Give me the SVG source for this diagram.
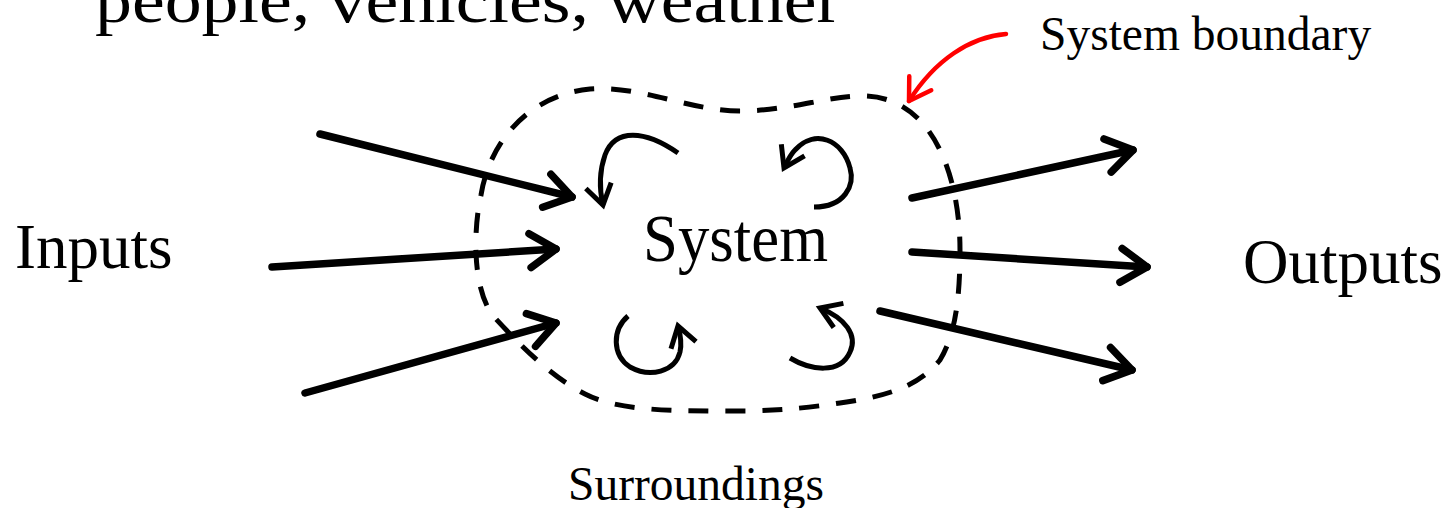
<svg xmlns="http://www.w3.org/2000/svg" width="1447" height="508" viewBox="0 0 1447 508">
<style>
text{font-family:"Liberation Serif","Times New Roman",serif;fill:#000}
.big{font-size:63px}
.small{font-size:47.5px}
.flow{fill:none;stroke:#000;stroke-width:7.5;stroke-linecap:round;marker-end:url(#bigHead)}
.loop{fill:none;stroke:#000;stroke-width:5;stroke-linecap:butt;marker-end:url(#smallHead)}
.boundary{fill:none;stroke:#000;stroke-width:5;stroke-dasharray:20 17}
</style>
<defs>
<marker id="bigHead" markerUnits="userSpaceOnUse" viewBox="-40 -25 50 50" refX="0" refY="0" markerWidth="50" markerHeight="50" orient="auto" overflow="visible">
<path d="M -26,-17 L 0,0 L -26,17" fill="none" stroke="#000" stroke-width="7.5" stroke-linecap="round" stroke-linejoin="round"/>
</marker>
<marker id="smallHead" markerUnits="userSpaceOnUse" viewBox="-30 -20 40 40" refX="0" refY="0" markerWidth="40" markerHeight="40" orient="auto" overflow="visible">
<path d="M -20,-13 L 0,0 L -20,13" fill="none" stroke="#000" stroke-width="5" stroke-linecap="butt" stroke-linejoin="miter"/>
</marker>
<marker id="redHead" markerUnits="userSpaceOnUse" viewBox="-30 -20 40 40" refX="0" refY="0" markerWidth="40" markerHeight="40" orient="auto" overflow="visible">
<path d="M -21,-13 L 0,0 L -21,13" fill="none" stroke="#ff0000" stroke-width="4.5" stroke-linecap="round" stroke-linejoin="round"/>
</marker>
</defs>
<rect width="1447" height="508" fill="#fff"/>

<text x="95" y="22" style="font-size:64px" textLength="746" lengthAdjust="spacingAndGlyphs">people, vehicles, weather</text>

<g id="system-boundary">
<path class="boundary" d="M 481,195 C 490,140 530,95 590,89 C 640,85 690,111 740,111 C 790,111 830,95 865,96 C 935,98 960,180 960,250 C 960,300 955,335 940,360 C 920,385 890,396 840,403 C 800,409 770,411 740,411 C 680,411 620,412 585,394 C 550,376 520,345 495,318 C 472,292 473,230 481,195 Z"/>
</g>

<g id="system">
<text class="big" x="643" y="261" style="font-size:67px" textLength="185" lengthAdjust="spacingAndGlyphs">System</text>
</g>

<g id="inputs">
<text class="big" x="15" y="268">Inputs</text>
</g>

<g id="outputs">
<text class="big" x="1243" y="283">Outputs</text>
</g>

<g id="surroundings">
<text class="small" x="568" y="500">Surroundings</text>
</g>

<g id="boundary-label">
<text class="small" x="1040" y="50">System boundary</text>
</g>

<g id="connectors">
<line class="flow" x1="320" y1="134" x2="572" y2="197"/>
<line class="flow" x1="272" y1="267" x2="556" y2="249"/>
<line class="flow" x1="305" y1="393" x2="556" y2="323"/>
<line class="flow" x1="912" y1="198" x2="1133" y2="150"/>
<line class="flow" x1="912" y1="252" x2="1147" y2="267"/>
<line class="flow" x1="880" y1="311" x2="1132" y2="370"/>
<path class="loop" d="M 678,153 C 645,130 615,128 605,155 C 598,175 600,192 603,205"/>
<path class="loop" d="M 814,207 C 845,207 855,185 850,168 C 843,140 815,128 795,150 C 790,155 787,162 784,168"/>
<path class="loop" d="M 628,316 C 612,330 612,355 630,367 C 650,378 675,372 680,352 C 682,343 680,333 678,326"/>
<path class="loop" d="M 790,358 C 810,370 840,375 850,352 C 858,335 845,318 820,308"/>
<path d="M 1006,34 C 970,37 935,60 909,101" fill="none" stroke="#ff0000" stroke-width="4.5" stroke-linecap="round" marker-end="url(#redHead)"/>
</g>
</svg>
